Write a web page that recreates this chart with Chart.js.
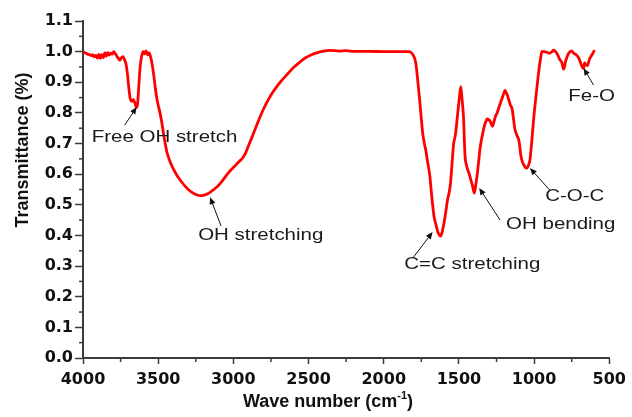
<!DOCTYPE html>
<html>
<head>
<meta charset="utf-8">
<script src="https://cdn.jsdelivr.net/npm/chart.js@4.4.0/dist/chart.umd.min.js"></script>
<style>
html,body{margin:0;padding:0;background:#fff;}
</style>
</head>
<body>
<canvas id="ftir" width="632" height="417"></canvas>
<script>

// FTIR spectrum, wavenumber (cm-1) vs transmittance
const waveNumber = [
  4000,3985,3970,3955,3945,3935,3925,3915,3905,3895,3885,3875,3865,3855,3845,3835,3825,3815,3805,3795,
  3785,3775,3765,3755,3745,3735,3725,3715,3705,3695,3685,3675,3665,3655,3645,3638,3630,3620,3610,3600,
  3590,3580,3570,3560,3550,3540,3530,3520,3510,3500,3490,3480,3470,3460,3450,3440,3420,3400,3380,3360,
  3340,3320,3300,3280,3260,3240,3220,3200,3180,3160,3140,3120,3100,3080,3060,3040,3020,3000,2980,2960,
  2940,2920,2900,2880,2860,2840,2820,2800,2780,2760,2740,2720,2700,2680,2660,2640,2620,2600,2560,2520,
  2480,2440,2400,2360,2300,2250,2200,2100,2000,1900,1840,1820,1800,1787,1775,1761,1750,1741,1730,1721,
  1710,1695,1685,1675,1665,1655,1645,1635,1622,1610,1596,1585,1576,1565,1556,1545,1535,1523,1510,1497,
  1488,1480,1470,1463,1457,1445,1431,1420,1411,1398,1388,1378,1368,1358,1345,1332,1322,1312,1300,1292,
  1283,1276,1265,1256,1246,1236,1226,1210,1200,1193,1180,1167,1157,1147,1137,1127,1115,1101,1088,1078,
  1068,1058,1048,1038,1028,1015,1005,995,982,968,958,948,935,915,896,880,869,849,830,817,
  803,790,770,750,737,720,704,690,678,671,664,655,645,631,615,598
];

const transmittance = [
  1.000,0.996,0.992,0.990,0.987,0.990,0.983,0.988,0.979,0.991,0.978,0.990,0.981,0.996,0.985,0.997,0.989,0.995,0.992,1.000,
  0.993,0.985,0.978,0.972,0.980,0.984,0.975,0.962,0.930,0.880,0.845,0.838,0.843,0.832,0.818,0.825,0.880,0.950,0.985,1.000,
  0.993,1.002,0.990,0.996,0.982,0.958,0.925,0.885,0.850,0.825,0.805,0.780,0.750,0.718,0.692,0.668,0.640,0.618,0.600,0.585,
  0.572,0.560,0.550,0.542,0.536,0.532,0.530,0.531,0.534,0.539,0.546,0.554,0.563,0.574,0.587,0.600,0.612,0.622,0.632,0.642,
  0.652,0.668,0.692,0.716,0.741,0.766,0.790,0.812,0.832,0.850,0.866,0.880,0.893,0.905,0.916,0.927,0.938,0.948,0.965,0.980,
  0.990,0.997,1.002,1.004,1.002,1.003,1.001,1.001,1.000,1.000,1.000,0.998,0.985,0.963,0.910,0.842,0.780,0.734,0.700,0.680,
  0.645,0.600,0.550,0.500,0.460,0.440,0.420,0.405,0.398,0.415,0.450,0.485,0.516,0.540,0.570,0.640,0.700,0.730,0.790,0.850,
  0.886,0.850,0.790,0.700,0.646,0.620,0.600,0.580,0.565,0.538,0.565,0.600,0.645,0.690,0.725,0.755,0.770,0.780,0.777,0.772,
  0.762,0.757,0.775,0.790,0.800,0.815,0.830,0.852,0.866,0.873,0.860,0.840,0.825,0.815,0.780,0.745,0.728,0.710,0.660,0.640,
  0.630,0.622,0.620,0.628,0.646,0.710,0.770,0.820,0.880,0.940,0.975,1.000,1.000,0.998,0.995,1.000,1.005,0.995,0.975,0.966,
  0.943,0.970,0.995,1.002,0.995,0.990,0.980,0.962,0.948,0.946,0.963,0.958,0.955,0.976,0.990,1.005
];

const xTicks = [4000,3500,3000,2500,2000,1500,1000,500];
const xMinor = [3750,3250,2750,2250,1750,1250,750];
const yTicks = [0,0.1,0.2,0.3,0.4,0.5,0.6,0.7,0.8,0.9,1.0,1.1];
const yMinor = [0.05,0.15,0.25,0.35,0.45,0.55,0.65,0.75,0.85,0.95,1.05];

// band assignments: label, label centre, arrow tail, arrow head (wavenumber, T)
const bandText = ["Free OH stretch","OH stretching","C=C stretching","OH bending","C-O-C","Fe-O"];
const bandLabelAt = [[3458,0.720],[2818,0.398],[1411,0.304],[823,0.437],[730,0.526],[618,0.852]];
const bandArrowFrom = [[3723,0.760],[3082,0.431],[1807,0.326],[1226,0.450],[896,0.548],[605,0.891]];
const bandArrowTo = [[3643,0.819],[3155,0.525],[1675,0.411],[1365,0.555],[1028,0.620],[671,0.946]];

const AXIS = "#3c3c3c";

const points = waveNumber.map((w,i)=>({x:w, y:transmittance[i]}));

function arrow(ctx, x1, y1, x2, y2){
    const a = Math.atan2(y2-y1, x2-x1);
    ctx.beginPath();
    ctx.moveTo(x1,y1);
    ctx.lineTo(x2 - 5*Math.cos(a), y2 - 5*Math.sin(a));
    ctx.stroke();
    ctx.beginPath();
    ctx.moveTo(x2,y2);
    ctx.lineTo(x2 - 7*Math.cos(a) + 3*Math.sin(a), y2 - 7*Math.sin(a) - 3*Math.cos(a));
    ctx.lineTo(x2 - 7*Math.cos(a) - 3*Math.sin(a), y2 - 7*Math.sin(a) + 3*Math.cos(a));
    ctx.closePath();
    ctx.fill();
}

const extras = {
    id:"extras",
    afterDraw(c){
        const ctx = c.ctx, xs = c.scales.x, ys = c.scales.y, ca = c.chartArea;
        ctx.save();

        // minor ticks
        ctx.strokeStyle = AXIS;
        ctx.lineWidth = 1.5;
        xMinor.forEach(v=>{
            const px = xs.getPixelForValue(v);
            ctx.beginPath(); ctx.moveTo(px, ca.bottom); ctx.lineTo(px, ca.bottom+4); ctx.stroke();
        });
        yMinor.forEach(v=>{
            const py = ys.getPixelForValue(v);
            ctx.beginPath(); ctx.moveTo(ca.left, py); ctx.lineTo(ca.left-4, py); ctx.stroke();
        });

        // band labels and arrows
        ctx.strokeStyle = "#111";
        ctx.fillStyle = "#111";
        ctx.lineWidth = 1;
        bandText.forEach((t,i)=>{
            arrow(ctx,
                xs.getPixelForValue(bandArrowFrom[i][0]), ys.getPixelForValue(bandArrowFrom[i][1]),
                xs.getPixelForValue(bandArrowTo[i][0]), ys.getPixelForValue(bandArrowTo[i][1]));
        });
        ctx.fillStyle = "#1a1a1a";
        ctx.font = "16px 'Liberation Sans', Arial, sans-serif";
        ctx.textAlign = "center";
        ctx.textBaseline = "middle";
        bandText.forEach((t,i)=>{
            ctx.save();
            ctx.translate(xs.getPixelForValue(bandLabelAt[i][0]), ys.getPixelForValue(bandLabelAt[i][1]));
            ctx.scale(1.28,1);
            ctx.fillText(t,0,0);
            ctx.restore();
        });

        // axis titles
        ctx.fillStyle = "#111";
        ctx.textAlign = "left";
        ctx.textBaseline = "alphabetic";
        const big = "bold 18px 'Liberation Sans', Arial, sans-serif";
        const small = "bold 11px 'Liberation Sans', Arial, sans-serif";
        ctx.font = big;
        const w1 = ctx.measureText("Wave number (cm").width;
        const w3 = ctx.measureText(")").width;
        ctx.font = small;
        const w2 = ctx.measureText("-1").width;
        let x0 = ca.left + 245 - (w1+w2+w3)/2;
        const base = ca.bottom + 49;
        ctx.font = big;
        ctx.fillText("Wave number (cm", x0, base);
        ctx.font = small;
        ctx.fillText("-1", x0 + w1, base - 8);
        ctx.font = big;
        ctx.fillText(")", x0 + w1 + w2, base);

        ctx.translate(23, ca.top + 129);
        ctx.rotate(-Math.PI/2);
        ctx.textAlign = "center";
        ctx.textBaseline = "middle";
        ctx.fillText("Transmittance (%)", 0, 0);

        ctx.restore();
    }
};

new Chart(document.getElementById("ftir"),{
    type:"line",
    data:{
        datasets:[{
            data:points,
            borderColor:"#ff0000",
            borderWidth:2.8,
            pointRadius:0,
            tension:0.3,
            fill:false
        }]
    },
    options:{
        responsive:false,
        animation:false,
        devicePixelRatio:1,
        layout:{padding:{top:21,right:20,left:0,bottom:0}},
        plugins:{
            legend:{display:false},
            tooltip:{enabled:false}
        },
        scales:{
            x:{
                type:"linear",
                reverse:true,
                min:500,
                max:4000,
                afterBuildTicks(s){ s.ticks = xTicks.map(v=>({value:v})); },
                afterFit(s){ s.height = 59; },
                grid:{drawOnChartArea:false, drawTicks:true, tickLength:6, tickColor:AXIS, tickWidth:1.5},
                border:{color:AXIS, width:2},
                ticks:{
                    color:"#111",
                    padding:6,
                    maxRotation:0,
                    callback:v=>String(v),
                    font:{family:"'DejaVu Sans'", size:16, weight:"bold"}
                }
            },
            y:{
                min:0,
                max:1.1,
                afterBuildTicks(s){ s.ticks = yTicks.map(v=>({value:v})); },
                afterFit(s){ s.width = 83; },
                grid:{drawOnChartArea:false, drawTicks:true, tickLength:8, tickColor:AXIS, tickWidth:1.5},
                border:{color:AXIS, width:2},
                ticks:{
                    color:"#111",
                    padding:2,
                    callback:v=>Number(v).toFixed(1),
                    font:{family:"'DejaVu Sans'", size:16, weight:"bold"}
                }
            }
        }
    },
    plugins:[extras]
});

</script>
</body>
</html>
